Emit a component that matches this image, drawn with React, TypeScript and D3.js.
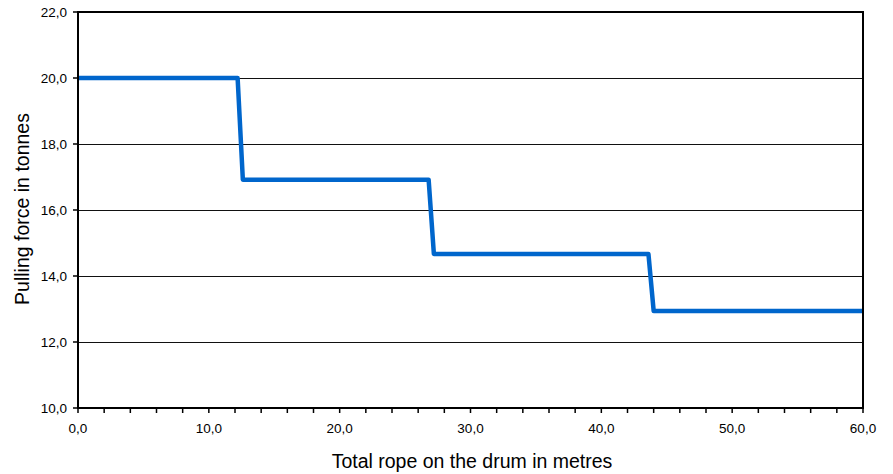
import React from "react";
import * as d3 from "d3";

const ropeMetres = [0, 12.2, 12.6, 26.8, 27.2, 43.6, 44.0, 60];
const pullingTonnes = [20, 20, 16.92, 16.92, 14.67, 14.67, 12.94, 12.94];
const xTicks = [0, 10, 20, 30, 40, 50, 60];
const xMinorTicks = d3.range(0, 60.01, 2);
const yTicks = [10, 12, 14, 16, 18, 20, 22];

const W = 893;
const H = 474;
const left = 78;
const right = 863;
const top = 12;
const bottom = 408;

export default function App() {
  const x = d3.scaleLinear().domain([0, 60]).range([left, right]);
  const y = d3.scaleLinear().domain([10, 22]).range([bottom, top]);
  const fmt = (v: number) => v.toFixed(1).replace(".", ",");
  const pts = ropeMetres.map((m, i) => [m, pullingTonnes[i]] as [number, number]);
  const line = d3
    .line<[number, number]>()
    .x((d) => x(d[0]))
    .y((d) => y(d[1]));
  const font = "'Liberation Sans', Arial, sans-serif";
  return (
    <svg
      width={W}
      height={H}
      style={{ position: "absolute", left: 0, top: 0, background: "#fff" }}
      fontFamily={font}
    >
      {yTicks.slice(1, -1).map((t) => (
        <line key={"g" + t} x1={left} x2={right} y1={Math.round(y(t)) + 0.5} y2={Math.round(y(t)) + 0.5} stroke="#111" strokeWidth={1} />
      ))}
      <path d={line(pts) || ""} fill="none" stroke="#0066CC" strokeWidth={4.5} strokeLinejoin="round" />
      <rect x={left} y={top} width={right - left} height={bottom - top} fill="none" stroke="#000" strokeWidth={2} />
      {xMinorTicks.map((t) => (
        <line key={"xt" + t} x1={x(t)} x2={x(t)} y1={bottom} y2={bottom + 5} stroke="#000" strokeWidth={1.5} />
      ))}
      {yTicks.map((t) => (
        <line key={"yt" + t} x1={left - 5} x2={left} y1={y(t)} y2={y(t)} stroke="#000" strokeWidth={1.5} />
      ))}
      {xTicks.map((t) => (
        <text key={"xl" + t} x={x(t)} y={433} textAnchor="middle" fontSize={13.5} fill="#000">
          {fmt(t)}
        </text>
      ))}
      {yTicks.map((t) => (
        <text key={"yl" + t} x={left - 11} y={y(t) + 5} textAnchor="end" fontSize={13.5} fill="#000">
          {fmt(t)}
        </text>
      ))}
      <text x={472} y={468} textAnchor="middle" fontSize={19.5} fill="#000">
        Total rope on the drum in metres
      </text>
      <text
        transform={`translate(29, 209) rotate(-90)`}
        textAnchor="middle"
        fontSize={19.5}
        fill="#000"
      >
        Pulling force in tonnes
      </text>
    </svg>
  );
}
